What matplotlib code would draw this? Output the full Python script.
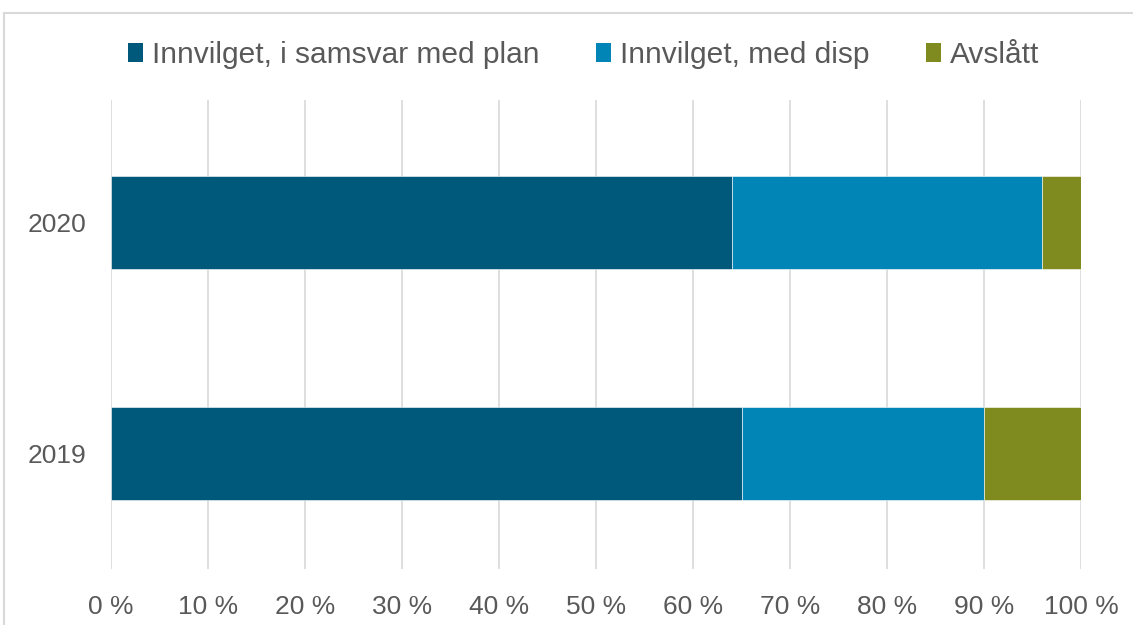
import matplotlib.pyplot as plt
from matplotlib.patches import Patch, Rectangle
from matplotlib.ticker import FuncFormatter

years = ["2019", "2020"]
series = ["Innvilget, i samsvar med plan", "Innvilget, med disp", "Avslått"]
plan = [65, 64]
disp = [25, 32]
avslatt = [10, 4]
colors = ["#00587A", "#0085B6", "#7F8A1F"]

plt.rcParams["font.family"] = ["Liberation Sans", "DejaVu Sans"]
txt = "#595959"

fig = plt.figure(figsize=(11.33, 6.25), dpi=100)
ax = fig.add_axes([111 / 1133, 56 / 625, 970 / 1133, 469 / 625])

ypos = list(range(len(years)))
left = [0] * len(years)
for vals, c in zip([plan, disp, avslatt], colors):
    ax.barh(ypos, vals, left=left, height=0.4, color=c, edgecolor="white",
            linewidth=0.4, zorder=3)
    left = [l + v for l, v in zip(left, vals)]

ax.set_xlim(0, 100)
ax.set_ylim(-0.5, 1.53)
ax.set_xticks(range(0, 101, 10))
ax.xaxis.set_major_formatter(FuncFormatter(lambda v, p: f"{int(v)} %"))
ax.set_yticks(ypos)
ax.set_yticklabels(years)
ax.tick_params(axis="both", length=0, labelsize=19, labelcolor=txt)
ax.tick_params(axis="x", pad=19)
ax.tick_params(axis="y", pad=18)
ax.grid(axis="x", color="#d9d9d9", linewidth=1.2, zorder=0)
for s in ax.spines.values():
    s.set_visible(False)

handles = [Patch(facecolor=c, edgecolor="none") for c in colors]
fig.legend(handles, series, loc="center", bbox_to_anchor=(0.515, 0.912),
           ncol=3, frameon=False, fontsize=21.5, labelcolor=txt,
           handlelength=0.5, handleheight=0.6, handletextpad=0.3,
           columnspacing=1.9)

fig.patches.append(Rectangle((4 / 1133, -0.1), 1.2, 1.1 - 13 / 625,
                             transform=fig.transFigure, fill=False,
                             edgecolor="#d9d9d9", linewidth=1.5))

fig.savefig("out.png", dpi=100)
